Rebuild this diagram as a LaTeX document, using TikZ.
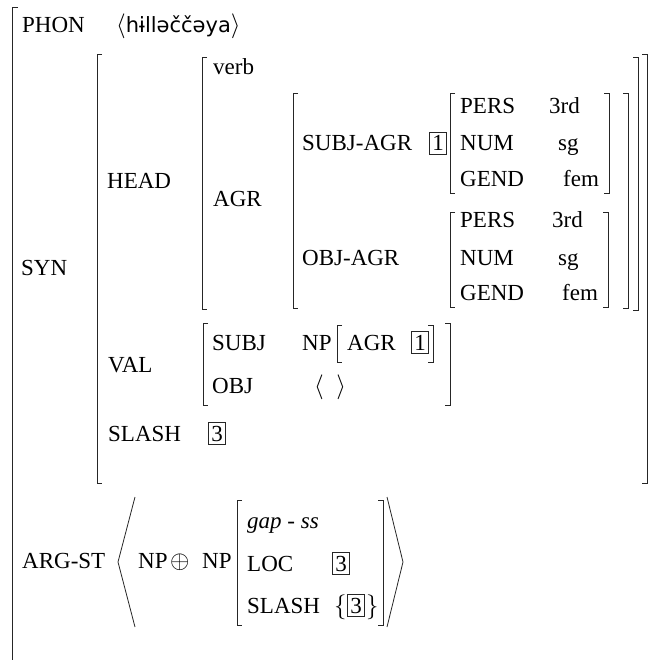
\documentclass[tikz,border=0pt]{standalone}
\usepackage{fontspec}
\setmainfont{Liberation Serif}
\newfontfamily\ipafont{DejaVu Sans}
\begin{document}
\begin{tikzpicture}[x=1pt,y=-1pt,
  brk/.style={draw=black!85,line width=0.8pt},
  lbl/.style={anchor=base west,inner sep=0pt,font=\fontsize{23}{27}\selectfont},
  tagbox/.style={anchor=base,draw=black!85,line width=0.7pt,inner xsep=2.5pt,inner ysep=3pt,font=\fontsize{23}{27}\selectfont}]
\useasboundingbox (0,0) rectangle (651,660);
\newcommand\lbr[3]{\draw[brk] (#1+5,#2) -- (#1,#2) -- (#1,#3) -- (#1+5,#3);}
\newcommand\rbr[3]{\draw[brk] (#1-5,#2) -- (#1,#2) -- (#1,#3) -- (#1-5,#3);}
% outer
\draw[brk] (18,7) -- (12,7) -- (12,660);
% SYN
\lbr{97}{54}{483}\rbr{647}{54}{483}
% HEAD
\lbr{202}{57}{309}\rbr{638}{57}{310}
% AGR
\lbr{293}{93}{308}\rbr{628}{93}{308}
% SUBJ-AGR value
\lbr{450}{93}{193}\rbr{609}{93}{193}
% OBJ-AGR value
\lbr{450}{212}{307}\rbr{608}{212}{307}
% VAL
\lbr{203}{323}{405}\rbr{450}{323}{405}
% NP[AGR 1]
\lbr{337}{325}{362}\rbr{433}{325}{362}
% ARG-ST NP
\lbr{237}{500}{625}\rbr{383}{500}{625}
% big angles
\draw[brk] (135,497) -- (118,562) -- (135,627);
\draw[brk] (387,497) -- (403,562) -- (387,627);

\node[lbl] (phon) at (22,33) {PHON};
\node[lbl] (phonv) at (116,33) {$\langle${\ipafont\fontsize{21}{25}\selectfont hɨlləččəya}$\rangle$};
\node[lbl] (verb) at (213,75) {verb};
\node[lbl] (head) at (107,189) {HEAD};
\node[lbl] (agr) at (213,207) {AGR};
\node[lbl] (sagr) at (302,151) {SUBJ-AGR};
\node[tagbox] (t1a) at (438,151) {1};
\node[lbl] (pers1) at (460,114) {PERS};
\node[lbl] (pv1) at (549,114) {3rd};
\node[lbl] (num1) at (460,151) {NUM};
\node[lbl] (nv1) at (558,151) {sg};
\node[lbl] (gend1) at (460,187) {GEND};
\node[lbl] (gv1) at (563,187) {fem};
\node[lbl] (oagr) at (302,265) {OBJ-AGR};
\node[lbl] (pers2) at (460,227) {PERS};
\node[lbl] (pv2) at (552,227) {3rd};
\node[lbl] (num2) at (460,265) {NUM};
\node[lbl] (nv2) at (558,265) {sg};
\node[lbl] (gend2) at (460,300) {GEND};
\node[lbl] (gv2) at (562,300) {fem};
\node[lbl] (syn) at (21,275) {SYN};
\node[lbl] (val) at (108,372) {VAL};
\node[lbl] (subj) at (212,350) {SUBJ};
\node[lbl] (np1) at (302,350) {NP};
\node[lbl] (agr2) at (347,350) {AGR};
\node[tagbox] (t1b) at (420,350) {1};
\node[lbl] (obj) at (212,393) {OBJ};
\node[lbl] (objv) at (314,393) {$\langle\;\ \rangle$};
\node[lbl] (slash) at (108,441) {SLASH};
\node[tagbox] (t3a) at (217,441) {3};
\node[lbl] (argst) at (22,568) {ARG-ST};
\node[lbl] (np2) at (138,568) {NP};
\node[lbl] (oplus) at (170,568) {$\oplus$};
\node[lbl] (np3) at (202,568) {NP};
\node[lbl] (gap) at (247,528) {\itshape gap - ss};
\node[lbl] (loc) at (247,571) {LOC};
\node[tagbox] (t3b) at (341,571) {3};
\node[lbl] (slash2) at (247,613) {SLASH};
\node[lbl,font=\fontsize{25}{29}\selectfont] (lbrace) at (334,613) {$\bigl\{$};
\node[tagbox] (t3c) at (356,613) {3};
\node[lbl,font=\fontsize{25}{29}\selectfont] (rbrace) at (366,613) {$\bigr\}$};
\end{tikzpicture}
\end{document}
